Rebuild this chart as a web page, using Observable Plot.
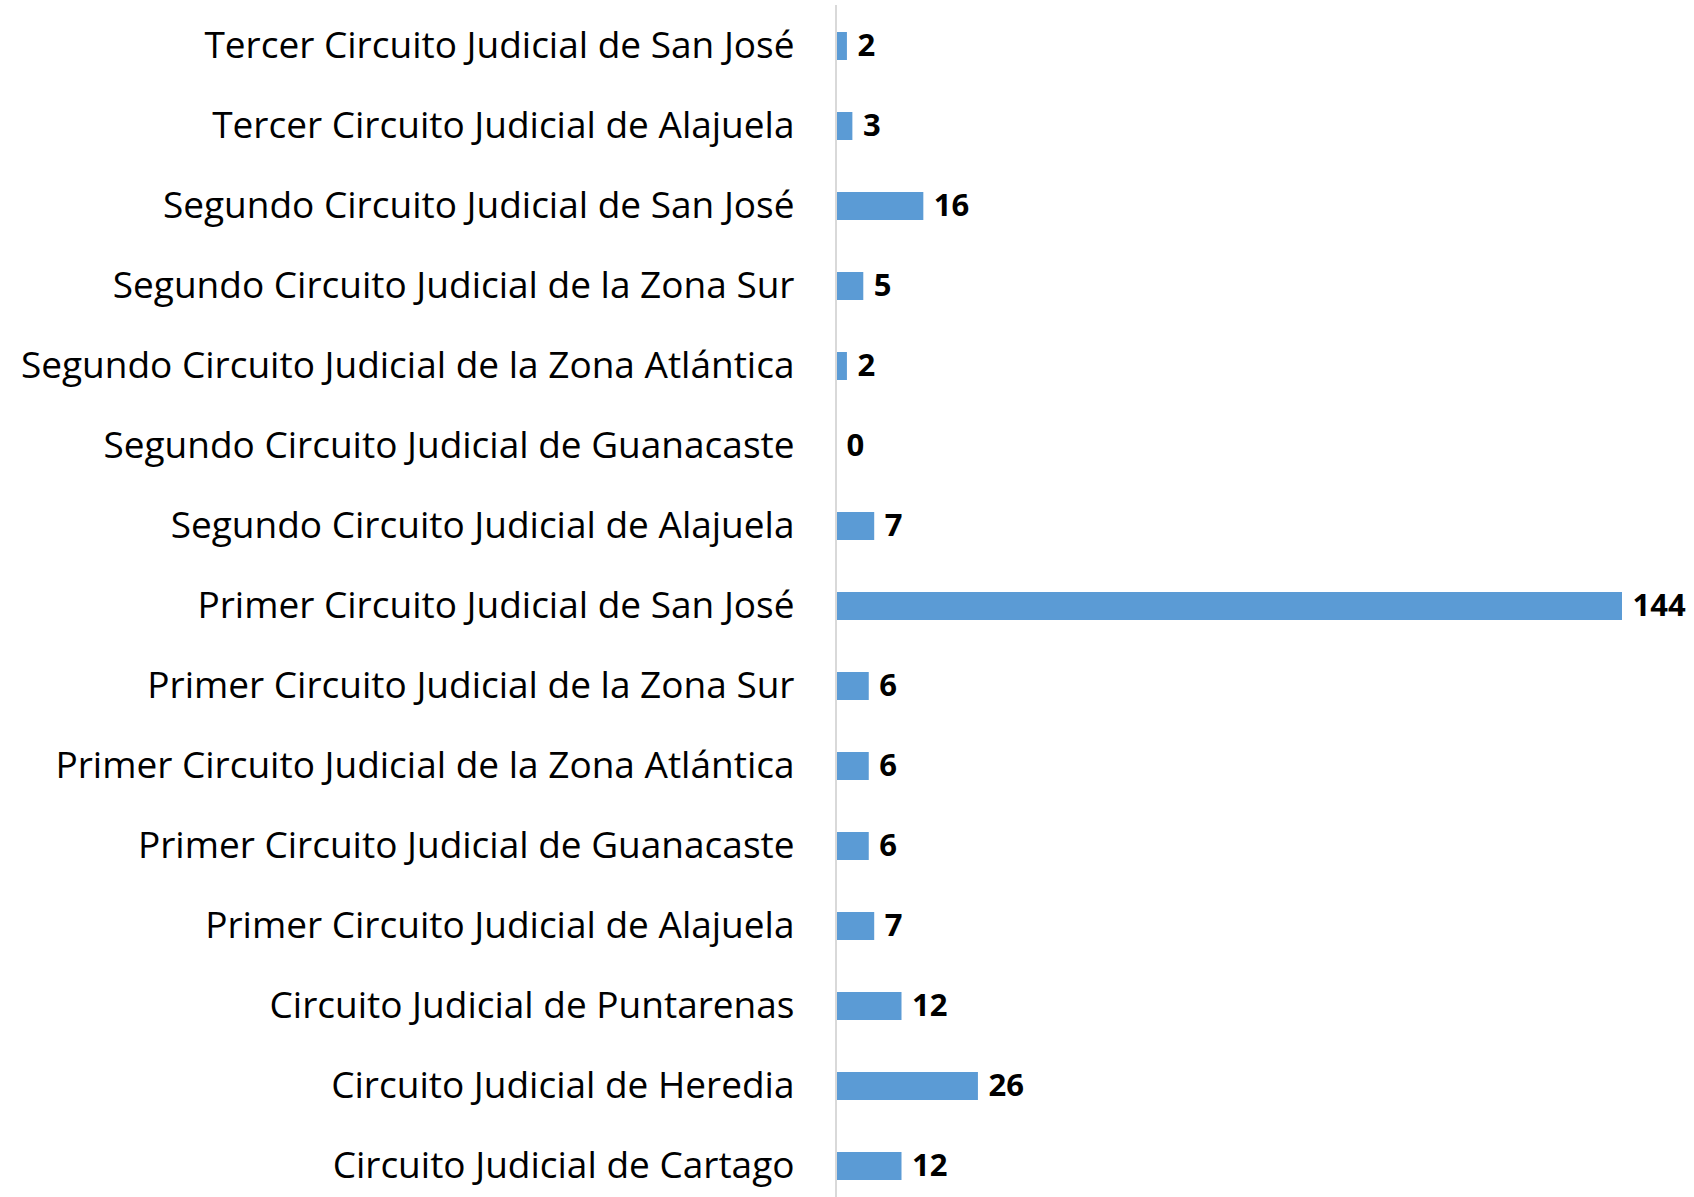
<!DOCTYPE html>
<html>
<head>
<meta charset="utf-8">
<script src="https://cdn.jsdelivr.net/npm/d3@7"></script>
<script src="https://cdn.jsdelivr.net/npm/@observablehq/plot@0.6"></script>
<style>
  html, body { margin: 0; padding: 0; background: #fff; }
  #chart svg { display: block; }
</style>
</head>
<body>
<div id="chart"></div>
<script>
const categories = [
  "Tercer Circuito Judicial de San José",
  "Tercer Circuito Judicial de Alajuela",
  "Segundo Circuito Judicial de San José",
  "Segundo Circuito Judicial de la Zona Sur",
  "Segundo Circuito Judicial de la Zona Atlántica",
  "Segundo Circuito Judicial de Guanacaste",
  "Segundo Circuito Judicial de Alajuela",
  "Primer Circuito Judicial de San José",
  "Primer Circuito Judicial de la Zona Sur",
  "Primer Circuito Judicial de la Zona Atlántica",
  "Primer Circuito Judicial de Guanacaste",
  "Primer Circuito Judicial de Alajuela",
  "Circuito Judicial de Puntarenas",
  "Circuito Judicial de Heredia",
  "Circuito Judicial de Cartago"
];
const values = [2, 3, 16, 5, 2, 0, 7, 144, 6, 6, 6, 7, 12, 26, 12];

const data = categories.map((c, i) => ({category: c, value: values[i]}));

const W = 1694, H = 1197;
const fontFamily = "'Open Sans', 'Noto Sans', sans-serif";

const chart = Plot.plot({
  width: W,
  height: H,
  marginLeft: 836,
  marginRight: 72,
  marginTop: 5,
  marginBottom: 0,
  style: {fontFamily, background: "#fff", color: "#000"},
  x: {domain: [0, 144], range: [836, 1622], axis: null},
  y: {domain: categories, range: [5, 1206], paddingInner: 0.65, paddingOuter: 0.325, axis: null},
  marks: [
    Plot.barX(data, {x: "value", y: "category", fill: "#5B9BD5"}),
    Plot.ruleX([0], {stroke: "#d9d9d9", strokeWidth: 2, dx: -0.5}),
    Plot.axisY({
      tickSize: 0,
      tickPadding: 0,
      anchor: "left",
      dx: -42,
      fontSize: 37,
      fill: "#000",
      label: null
    }),
    Plot.text(data, {
      x: "value", y: "category", text: d => String(d.value),
      textAnchor: "start", dx: 10, fontSize: 31, fontWeight: "bold", fill: "#000"
    })
  ]
});
document.getElementById("chart").appendChild(chart);
</script>
</body>
</html>
